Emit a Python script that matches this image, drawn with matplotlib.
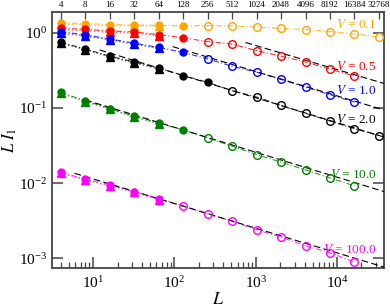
import matplotlib
matplotlib.use("Agg")
import matplotlib.pyplot as plt

# system sizes
L_all = [4, 8, 16, 32, 64, 128, 256, 512, 1024, 2048, 4096, 8192, 16384, 32768]
L_tri = [4, 8, 16, 32, 64]

V_labels = ["0.1", "0.5", "1.0", "2.0", "10.0", "100.0"]
colors = ["orange", "red", "blue", "black", "green", "magenta"]

# filled circles (small L)
L_filled = {
    "0.1": [4, 8, 16, 32, 64, 128],
    "0.5": [4, 8, 16, 32, 64, 128],
    "1.0": [4, 8, 16, 32, 64, 128],
    "2.0": [4, 8, 16, 32, 64, 128, 256],
    "10.0": [4, 8, 16, 32, 64, 128],
    "100.0": [4, 8, 16, 32, 64],
}
y_filled = {
    "0.1": [1.36, 1.33, 1.29, 1.27, 1.26, 1.24],
    "0.5": [1.15, 1.12, 1.06, 1.03, 0.95, 0.86],
    "1.0": [1.04, 0.94, 0.83, 0.73, 0.64, 0.55],
    "2.0": [0.75, 0.61, 0.49, 0.41, 0.34, 0.27, 0.22],
    "10.0": [0.161, 0.125, 0.098, 0.078, 0.063, 0.051],
    "100.0": [0.0140, 0.0112, 0.0095, 0.0077, 0.0062],
}

# open circles (large L)
L_open = {
    "0.1": [256, 512, 1024, 2048, 4096, 8192, 16384, 32768],
    "0.5": [256, 512, 1024, 2048, 4096, 8192, 16384],
    "1.0": [256, 512, 1024, 2048, 4096, 8192, 16384],
    "2.0": [512, 1024, 2048, 4096, 8192, 16384, 32768],
    "10.0": [256, 512, 1024, 2048, 4096, 8192, 16384],
    "100.0": [128, 256, 512, 1024, 2048, 4096, 8192, 16384],
}
y_open = {
    "0.1": [1.25, 1.24, 1.19, 1.15, 1.11, 1.04, 0.97, 0.88],
    "0.5": [0.766, 0.71, 0.58, 0.49, 0.41, 0.328, 0.267],
    "1.0": [0.45, 0.36, 0.30, 0.24, 0.19, 0.15, 0.12],
    "2.0": [0.17, 0.14, 0.108, 0.085, 0.067, 0.053, 0.043],
    "10.0": [0.040, 0.031, 0.024, 0.019, 0.0150, 0.0117, 0.0092],
    "100.0": [0.0050, 0.0039, 0.0031, 0.0024, 0.0019, 0.00147, 0.00118, 0.00089],
}

# triangles (second method, small L)
y_tri = {
    "0.1": [1.30, 1.28, 1.25, 1.24, 1.23],
    "0.5": [1.10, 1.07, 1.02, 0.99, 0.92],
    "1.0": [1.00, 0.91, 0.81, 0.71, 0.62],
    "2.0": [0.73, 0.60, 0.48, 0.40, 0.33],
    "10.0": [0.157, 0.122, 0.096, 0.076, 0.061],
    "100.0": [0.0136, 0.0109, 0.0092, 0.0075, 0.0060],
}

# dashed power-law fits, two end points each
fit_L = {
    "0.5": [750, 38000],
    "1.0": [95, 38000],
    "2.0": [12, 38000],
    "10.0": [8, 38000],
    "100.0": [5.9, 38000],
}
fit_y = {
    "0.5": [0.745, 0.212],
    "1.0": [0.657, 0.094],
    "2.0": [0.593, 0.041],
    "10.0": [0.128, 0.0077],
    "100.0": [0.0135, 0.00076],
}

# label positions (right edge of text)
label_pos = {
    "0.1": (30000, 1.28),
    "0.5": (30000, 0.355),
    "1.0": (30000, 0.170),
    "2.0": (30000, 0.0713),
    "10.0": (31000, 0.0132),
    "100.0": (31000, 0.00132),
}

plt.rcParams["font.family"] = ["Liberation Serif", "DejaVu Serif"]
plt.rcParams["mathtext.fontset"] = "stix"

fig = plt.figure(figsize=(3.9, 3.07), dpi=100)
ax = fig.add_axes([0.133, 0.127, 0.852, 0.834])

for V, c in zip(V_labels, colors):
    # dash-dot through circles
    ax.plot(L_filled[V] + L_open[V], y_filled[V] + y_open[V], color=c,
            ls=(0, (5, 2, 1, 2)), lw=0.8, alpha=0.8, zorder=2)
    ax.plot(L_tri, y_tri[V], color=c, ls=":", lw=1.0, alpha=0.6, zorder=2)
    ax.plot(L_tri, y_tri[V], ls="none", marker="^", ms=5.5, color=c,
            mec=c, zorder=3)
    ax.plot(L_filled[V], y_filled[V], ls="none", marker="o", ms=5, color=c,
            mec=c, zorder=4)
    ax.plot(L_open[V], y_open[V], ls="none", marker="o", ms=5.5, mfc="none",
            mec=c, mew=1.0, zorder=4)
    if V in fit_L:
        ax.plot(fit_L[V], fit_y[V], color="black", ls=(0, (6, 3)), lw=0.8,
                zorder=3)
    x, y = label_pos[V]
    ax.text(x, y, r"$V$ = " + V, color=c, fontsize=9.5, ha="right",
            va="center")

ax.set_xscale("log")
ax.set_yscale("log")
ax.set_xlim(3.1, 38000)
ax.set_ylim(7.4e-4, 1.9)

for s in ax.spines.values():
    s.set_color("#444444")
    s.set_linewidth(1.3)
ax.tick_params(which="both", direction="in", right=True, color="#444444",
               labelsize=11)
ax.tick_params(which="major", length=8, width=1.1)
ax.tick_params(which="minor", length=4, width=0.9)
ax.tick_params(axis="x", which="major", pad=5)

ax.set_xlabel(r"$L$", fontsize=13, labelpad=0)
ax.set_ylabel(r"$L\ I_1$", fontsize=12, labelpad=0)

top = ax.twiny()
top.set_xscale("log")
top.set_xlim(ax.get_xlim())
top.set_xticks(L_all)
top.set_xticklabels([str(v) for v in L_all])
top.minorticks_off()
top.tick_params(axis="x", direction="in", length=5, width=0.9,
                color="#444444", labelsize=6.5, pad=2)
for s in top.spines.values():
    s.set_visible(False)

fig.savefig("out.png", dpi=100)
